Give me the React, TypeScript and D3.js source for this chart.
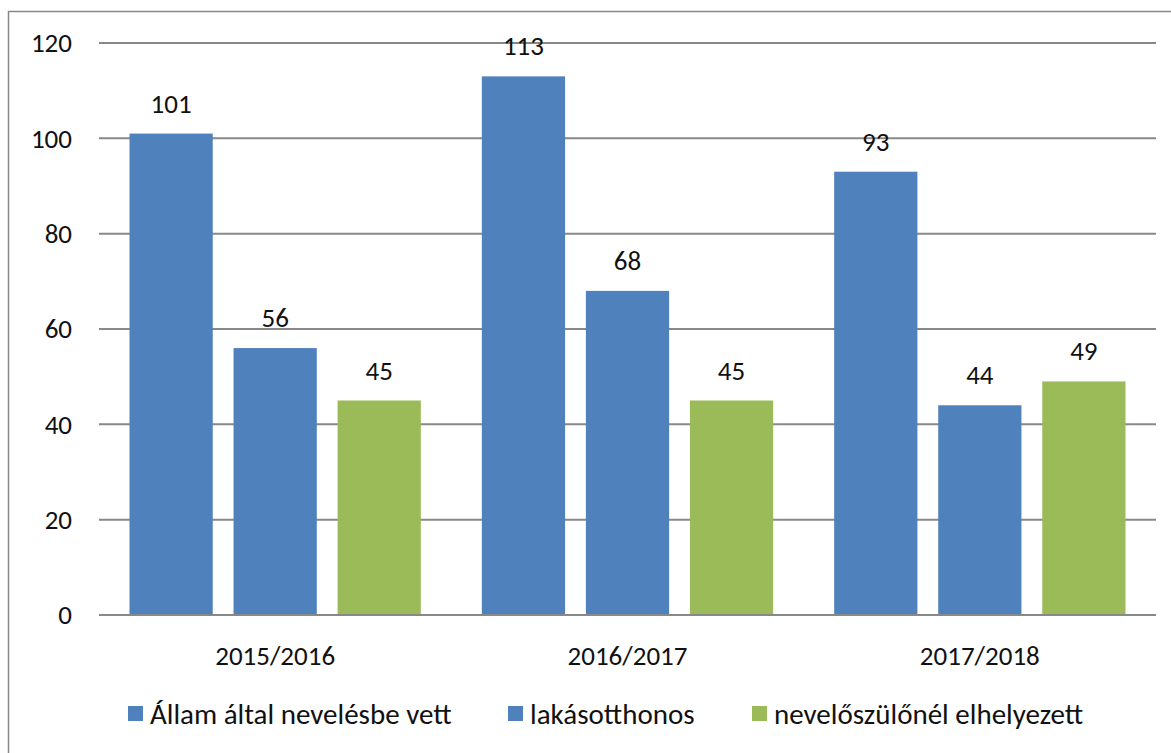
import React from 'react'
import * as d3 from 'd3'

const categories = ['2015/2016', '2016/2017', '2017/2018']
const seriesNames = ['Állam által nevelésbe vett', 'lakásotthonos', 'nevelőszülőnél elhelyezett']
const allam = [101, 113, 93]
const lakas = [56, 68, 44]
const nevelo = [45, 45, 49]
const yTicks = [0, 20, 40, 60, 80, 100, 120]
const colors = ['#4F81BD', '#4F81BD', '#9BBB59']

const W = 1171
const H = 753
const left = 99
const right = 1156
const top = 43
const bottom = 615
const font = 'Carlito, Calibri, Lato, sans-serif'
const fs = 27

export default function App() {
  const series = [allam, lakas, nevelo]

  const x0 = d3.scaleBand().domain(categories).range([left, right]).padding(0)
  const x1 = d3.scaleBand()
    .domain(seriesNames)
    .range([30.5, x0.bandwidth() - 30.5])
    .paddingInner(0.2)
    .paddingOuter(0)
  const y = d3.scaleLinear().domain([0, 120]).range([bottom, top])

  // legend layout, hand placed like the original
  const legendX = [128, 508, 752]

  return (
    <svg
      width={W}
      height={H}
      style={{ position: 'absolute', left: 0, top: 0, background: '#fff' }}
      fontFamily={font}
    >
      <rect x={8.5} y={11.5} width={W + 10} height={H + 10} fill="#fff" stroke="#878787" strokeWidth={1.5} />

      {/* grid */}
      {yTicks.map(t => (
        <g key={t}>
          <line x1={left} x2={right} y1={y(t)} y2={y(t)} stroke="#888" strokeWidth={2} />
          <text x={72} y={y(t)} dy="0.35em" textAnchor="end" fontSize={fs} fill="#111">{t}</text>
        </g>
      ))}

      {/* bars */}
      {categories.map((c, i) => (
        <g key={c} transform={`translate(${x0(c)},0)`}>
          {seriesNames.map((s, j) => {
            const v = series[j][i]
            const bx = x1(s) as number
            return (
              <g key={s}>
                <rect x={bx} y={y(v)} width={x1.bandwidth()} height={y(0) - y(v)} fill={colors[j]} />
                <text x={bx + x1.bandwidth() / 2} y={y(v) - 21} textAnchor="middle" fontSize={fs} fill="#111">{v}</text>
              </g>
            )
          })}
          <text x={x0.bandwidth() / 2} y={665} textAnchor="middle" fontSize={fs} fill="#111">{c}</text>
        </g>
      ))}

      <line x1={left} x2={right} y1={y(0)} y2={y(0)} stroke="#888" strokeWidth={2} />

      {/* legend */}
      {seriesNames.map((s, j) => (
        <g key={s} transform={`translate(${legendX[j]},706)`}>
          <rect x={0} y={0} width={15} height={15} fill={colors[j]} />
          <text x={22} y={18} fontSize={29} fill="#111">{s}</text>
        </g>
      ))}
    </svg>
  )
}
